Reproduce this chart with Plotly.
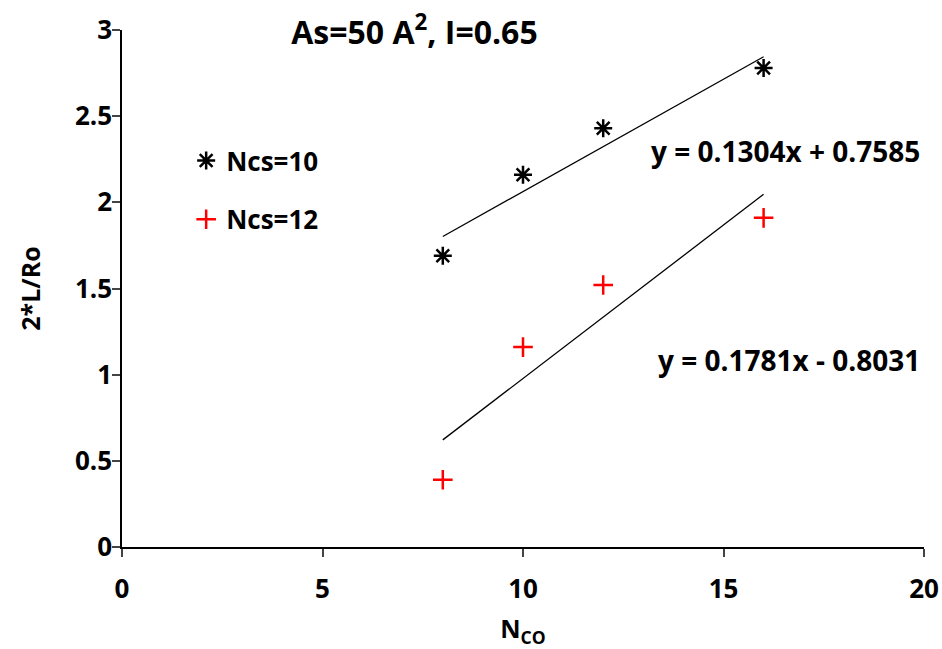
import plotly.graph_objects as go

x_vals = [8, 10, 12, 16]
ncs10 = [1.69, 2.16, 2.43, 2.78]
ncs12 = [0.39, 1.16, 1.52, 1.91]
trend_x = [8, 16]
slopes = [0.1304, 0.1781]
intercepts = [0.7585, -0.8031]
eq_labels = ["y = 0.1304x + 0.7585", "y = 0.1781x - 0.8031"]
x_ticks = [0, 5, 10, 15, 20]
y_ticks = [0, 0.5, 1, 1.5, 2, 2.5, 3]

FONT = "Open Sans"
fig = go.Figure()

fig.add_trace(go.Scatter(
    x=x_vals, y=ncs10, mode="markers", name="<b>Ncs=10</b>", legendgroup="a",
    marker=dict(symbol="asterisk-open", size=15, color="black",
                line=dict(color="black", width=2.5)),
))
fig.add_trace(go.Scatter(
    x=x_vals, y=ncs12, mode="markers", name="<b>Ncs=12</b>", legendgroup="b",
    marker=dict(symbol="cross-thin-open", size=14, color="red",
                line=dict(color="red", width=2.5)),
))
for m, b in zip(slopes, intercepts):
    fig.add_trace(go.Scatter(
        x=trend_x, y=[m * xx + b for xx in trend_x], mode="lines",
        line=dict(color="black", width=1.3), showlegend=False, hoverinfo="skip",
    ))

fig.add_annotation(x=0.9975, y=2.30, xref="paper", yref="y", text="<b>" + eq_labels[0] + "</b>",
                   showarrow=False, xanchor="right", yanchor="middle",
                   font=dict(family=FONT, size=28, color="black"))
fig.add_annotation(x=0.9975, y=1.085, xref="paper", yref="y", text="<b>" + eq_labels[1] + "</b>",
                   showarrow=False, xanchor="right", yanchor="middle",
                   font=dict(family=FONT, size=28, color="black"))

fig.update_layout(
    width=942, height=649,
    paper_bgcolor="white", plot_bgcolor="white",
    margin=dict(l=122, r=18, t=30, b=102, autoexpand=False),
    font=dict(family=FONT, size=25, color="black"),
    title=dict(text="<b>As=50 A<sup>2</sup>, I=0.65</b>", x=0.44, xanchor="center",
               y=0.95, yanchor="middle", font=dict(family=FONT, size=32, color="black")),
    showlegend=True,
    legend=dict(x=0.08, y=0.793, xanchor="left", yanchor="top",
                bgcolor="rgba(0,0,0,0)", tracegroupgap=22, traceorder="grouped",
                font=dict(family=FONT, size=26, color="black"), itemwidth=30),
    xaxis=dict(range=[0, 20], tickvals=x_ticks, ticktext=["<b>%g</b>" % v for v in x_ticks],
               ticks="outside", ticklen=8, tickwidth=1.5, ticklabelstandoff=10,
               showline=True, linecolor="black", linewidth=1.5, showgrid=False, zeroline=False,
               tickfont=dict(family=FONT, size=26, color="black"),
               title=dict(text="<b>N<sub>CO</sub></b>", font=dict(family=FONT, size=25), standoff=16)),
    yaxis=dict(range=[0, 3], tickvals=y_ticks, ticktext=["<b>%g</b>" % v for v in y_ticks],
               ticks="outside", ticklen=8, tickwidth=1.5, ticklabelstandoff=-5,
               showline=True, linecolor="black", linewidth=1.5, showgrid=False, zeroline=False,
               tickfont=dict(family=FONT, size=26, color="black"),
               title=dict(text="<b>2*L/Ro</b>", font=dict(family=FONT, size=25), standoff=27)),
)

fig.write_html("out.html", config={"displayModeBar": False},
               post_script="document.body.style.margin='0px';")
